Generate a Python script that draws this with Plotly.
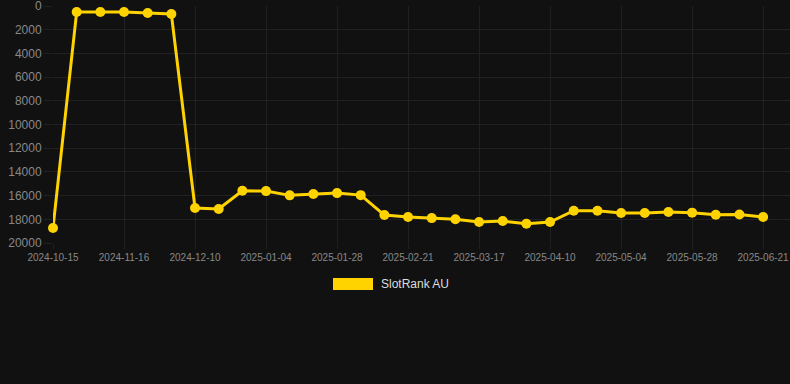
import plotly.graph_objects as go

dates = [
    "2024-10-15", "2024-10-31", "2024-11-08", "2024-11-16", "2024-11-24", "2024-12-02",
    "2024-12-10", "2024-12-18", "2024-12-27", "2025-01-04", "2025-01-12", "2025-01-20",
    "2025-01-28", "2025-02-05", "2025-02-13", "2025-02-21", "2025-03-01", "2025-03-09",
    "2025-03-17", "2025-03-25", "2025-04-02", "2025-04-10", "2025-04-18", "2025-04-26",
    "2025-05-04", "2025-05-12", "2025-05-20", "2025-05-28", "2025-06-05", "2025-06-13",
    "2025-06-21",
]
rank_au = [
    18730, 500, 500, 500, 590, 670,
    17050, 17130, 15590, 15620, 15980, 15870,
    15790, 15960, 17640, 17810, 17900, 18000,
    18230, 18150, 18380, 18230, 17280, 17280,
    17470, 17470, 17390, 17440, 17610, 17600,
    17810,
]
tick_labels = dates[::3]
y_ticks = list(range(0, 20001, 2000))
series_name = "SlotRank AU"

W, H = 790, 384
L, R, T, B = 53, 0, 6, 141
pw, ph = W - L - R, H - T - B
step = 23.67

gold = "#FFD300"
grid = "#212121"
bg = "#111111"

fig = go.Figure()
fig.add_trace(go.Scatter(
    x=dates, y=rank_au, mode="lines+markers", name=series_name,
    line=dict(color=gold, width=3),
    marker=dict(color=gold, size=10),
    cliponaxis=False,
    showlegend=False,
))

def px_x(p):
    return (p - L) / pw

def px_y(p):
    return (H - B - p) / ph

fig.add_shape(type="rect", xref="paper", yref="paper",
              x0=px_x(333), x1=px_x(373), y0=px_y(290), y1=px_y(278),
              fillcolor=gold, line=dict(width=0))
fig.add_annotation(xref="paper", yref="paper", x=px_x(379), y=px_y(284),
                   xanchor="left", yanchor="middle", showarrow=False,
                   text=series_name, font=dict(size=12, color="#dddddd"))

fig.update_layout(
    width=W, height=H,
    margin=dict(l=L, r=R, t=T, b=B),
    paper_bgcolor=bg, plot_bgcolor=bg,
    font=dict(family="Liberation Sans, Arial, sans-serif", color="#888888"),
    xaxis=dict(
        type="category", categoryorder="array", categoryarray=dates,
        range=[0, pw / step],
        tickmode="array", tickvals=tick_labels, ticktext=tick_labels,
        tickfont=dict(size=10, color="#888888"),
        ticks="outside", ticklen=5, tickcolor=grid,
        showgrid=True, gridcolor=grid, gridwidth=1,
        zeroline=False, showline=False,
        ticklabeloverflow="allow",
    ),
    yaxis=dict(
        range=[20000, 0], tickmode="array", tickvals=y_ticks,
        ticktext=[str(v) for v in y_ticks],
        tickfont=dict(size=12, color="#888888"),
        ticks="outside", ticklen=8, tickcolor=grid,
        showgrid=True, gridcolor=grid, gridwidth=1,
        zeroline=False, showline=False,
        ticklabeloverflow="allow",
    ),
)

fig.write_html(
    "out.html",
    config={"displayModeBar": False},
    post_script="document.body.style.margin='0';document.body.style.background='#111111';",
)
